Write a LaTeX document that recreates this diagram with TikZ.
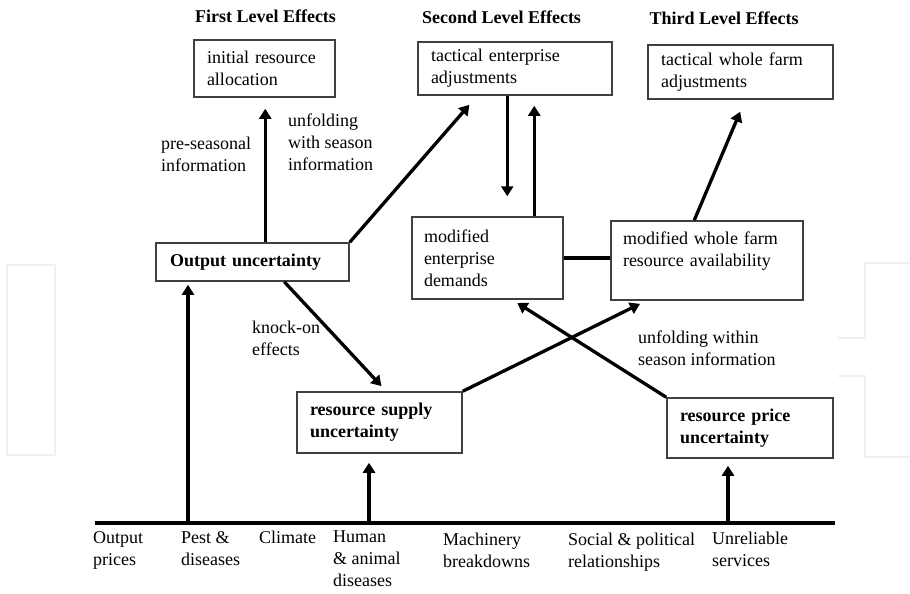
\documentclass[tikz,border=0pt]{standalone}
\usepackage{fontspec}
\setmainfont{Liberation Serif}
\usetikzlibrary{arrows.meta,calc}

\begin{document}
\begin{tikzpicture}[x=1pt,y=-1pt,
  every node/.style={font=\fontsize{18}{22}\selectfont},
  boxnode/.style={draw=black!75,line width=1.5pt,rectangle,align=left,
    inner xsep=13pt,inner ysep=0pt},
  lbl/.style={anchor=north west,inner sep=0pt,align=left},
  head/.style={inner sep=0pt,font=\fontsize{18}{22}\selectfont\bfseries},
  arr/.style={line width=3.3pt,-{Triangle[length=10pt,width=12pt]}},
  link/.style={line width=3.3pt},
  faintline/.style={draw=black!6,line width=2.5pt}]

\useasboundingbox (0,0) rectangle (910,594);

% faint background outlines
\draw[faintline] (7,265) rectangle (55,455);
\draw[faintline] (838,338) -- (865,338) -- (865,263) -- (912,263);
\draw[faintline] (838,376) -- (865,376) -- (865,457) -- (912,457);

% column headings
\node[head] (h1) at (265.5,16) {First Level Effects};
\node[head] (h2) at (501.5,17) {Second Level Effects};
\node[head] (h3) at (724,18) {Third Level Effects};

% boxes
\node[boxnode,minimum width=141pt,minimum height=57pt,text width=115pt] (init) at (264.5,68.5)
  {initial resource\\allocation};
\node[boxnode,minimum width=194pt,minimum height=53pt,text width=168pt] (tea) at (515,68.5)
  {tactical enterprise\\adjustments};
\node[boxnode,minimum width=185pt,minimum height=54pt,text width=159pt] (twf) at (740.5,72)
  {tactical whole farm\\adjustments};
\node[boxnode,minimum width=193pt,minimum height=38pt,text width=165pt,inner xsep=14pt] (out) at (252.5,262)
  {\textbf{Output uncertainty}};
\node[boxnode,minimum width=151pt,minimum height=82pt,text width=127pt,inner xsep=12pt] (med) at (487.5,258)
  {modified\\enterprise\\demands};
\node[boxnode,minimum width=192pt,minimum height=79pt,text width=168pt,inner xsep=12pt] (mwf) at (707,260.5)
  {modified whole farm\\resource availability\\\mbox{}};
\node[boxnode,minimum width=165pt,minimum height=61pt,text width=139pt] (rsu) at (379.5,422.5)
  {\textbf{resource supply}\\\textbf{uncertainty}};
\node[boxnode,minimum width=166pt,minimum height=60pt,text width=140pt] (rpu) at (750,428)
  {\textbf{resource price}\\\textbf{uncertainty}};

% free labels
\node[lbl] (l1) at (161,137) {pre-seasonal\\information};
\node[lbl] (l2) at (288,114) {unfolding\\with season\\information};
\node[lbl] (l3) at (252,321) {knock-on\\effects};
\node[lbl] (l4) at (638,331) {unfolding within\\season information};

% sources along the base line
\coordinate (axw) at (95,523);
\coordinate (axe) at (835,523);
\draw[line width=3.3pt] (axw) -- (axe);

\node[lbl] (s1) at (93,531) {Output\\prices};
\node[lbl] (s2) at (181,531) {Pest \&\\diseases};
\node[lbl] (s3) at (259,531) {Climate};
\node[lbl] (s4) at (333,531) {Human\\\& animal\\diseases};
\node[lbl] (s5) at (443,533) {Machinery\\breakdowns};
\node[lbl] (s6) at (568,533) {Social \& political\\relationships};
\node[lbl] (s7) at (712,532) {Unreliable\\services};

\coordinate (p1) at (188,523);
\coordinate (p2) at (369,523);
\coordinate (p3) at (728,523);

% connectors
\draw[arr,shorten >=3pt] (p1) -- (p1 |- out.south);
\draw[arr,shorten >=9pt] (p2) -- (p2 |- rsu.south);
\draw[arr,shorten >=7pt] (p3) -- (p3 |- rpu.south);

\draw[arr,shorten >=11pt] ($(out.north west)+(110,0)$) -- ($(init.south west)+(72,0)$);
\draw[arr,shorten >=12pt] (out.north east) -- ($(tea.south west)+(60,0)$);
\draw[arr,shorten >=20pt] ($(tea.south west)+(90,0)$) -- ($(med.north west)+(96,0)$);
\draw[arr,shorten >=10pt] ($(med.north west)+(123,0)$) -- ($(tea.south west)+(117,0)$);
\draw[link] (med.east) -- (med.east -| mwf.west);
\draw[arr,shorten >=13pt] ($(mwf.north west)+(84,0)$) -- ($(twf.south west)+(98,0)$);
\draw[arr,shorten >=7pt] ($(out.south west)+(129,0)$) -- ($(rsu.north west)+(90,0)$);
\draw[arr,shorten >=7pt] (rsu.north east) -- ($(mwf.south west)+(36,0)$);
\draw[arr,shorten >=6pt] (rpu.north west) -- ($(med.south west)+(101,0)$);

\end{tikzpicture}
\end{document}
